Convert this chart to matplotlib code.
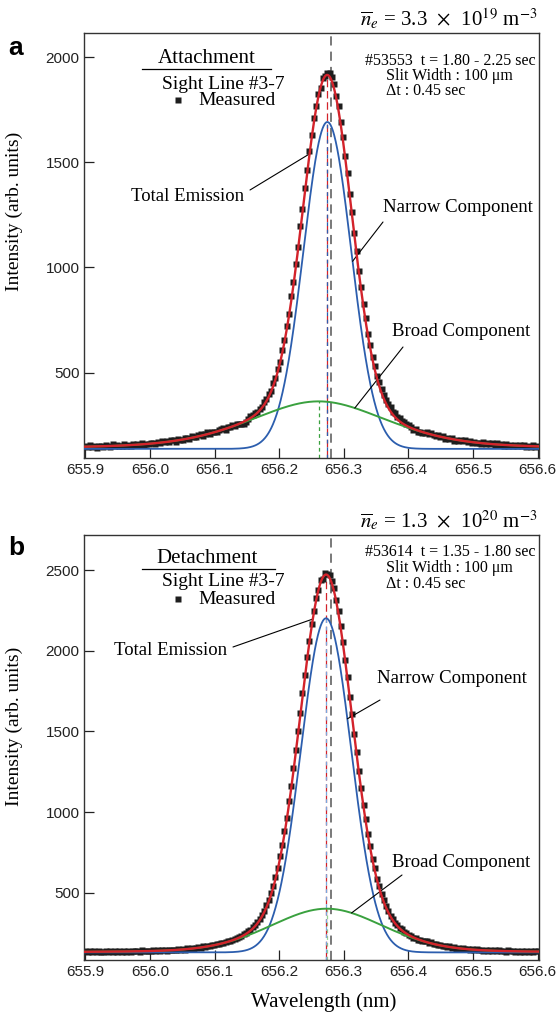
import numpy as np
import matplotlib
matplotlib.use('Agg')
import matplotlib.pyplot as plt
from matplotlib.lines import Line2D

plt.rcParams['font.family'] = ['Liberation Sans', 'DejaVu Sans']
plt.rcParams['mathtext.fontset'] = 'stix'
SERIF = ['Liberation Serif', 'DejaVu Serif']

# spectrometer wavelength grid (nm)
wl = np.linspace(655.9, 656.6, 201)

# measured H-alpha spectra
meas_a = [150, 144, 154, 146, 150, 143, 153, 151, 147, 155,
          150, 146, 158, 150, 155, 149, 153, 159, 151, 157,
          149, 160, 156, 160, 156, 165, 156, 161, 158, 166,
          165, 161, 170, 165, 174, 168, 174, 169, 178, 177,
          172, 184, 181, 179, 189, 188, 184, 196, 195, 193,
          201, 207, 199, 210, 215, 206, 219, 219, 215, 227,
          231, 237, 229, 242, 243, 251, 246, 257, 254, 253,
          256, 265, 281, 292, 296, 308, 314, 329, 336, 358,
          372, 396, 412, 448, 475, 517, 552, 609, 656, 723,
          778, 862, 931, 1018, 1095, 1197, 1278, 1377, 1463, 1552,
          1629, 1712, 1766, 1827, 1856, 1902, 1909, 1925, 1923, 1908,
          1874, 1818, 1769, 1692, 1620, 1528, 1449, 1350, 1263, 1162,
          1078, 983, 906, 825, 759, 685, 631, 576, 533, 486,
          456, 421, 395, 368, 350, 335, 314, 306, 289, 283,
          270, 265, 253, 250, 240, 228, 231, 219, 218, 211,
          213, 216, 206, 212, 205, 196, 203, 193, 196, 185,
          190, 183, 188, 176, 181, 175, 180, 173, 179, 169,
          173, 165, 171, 163, 167, 162, 168, 158, 164, 159,
          163, 155, 163, 154, 158, 152, 159, 153, 157, 149,
          155, 150, 156, 150, 156, 147, 152, 147, 154, 147, 150]

meas_b = [136, 131, 138, 133, 137, 130, 136, 134, 132, 139,
          133, 138, 131, 137, 134, 139, 133, 138, 134, 139,
          132, 140, 136, 139, 134, 142, 136, 141, 136, 141,
          143, 138, 143, 138, 145, 143, 140, 147, 142, 148,
          145, 151, 146, 152, 147, 155, 151, 158, 154, 160,
          161, 158, 167, 163, 170, 168, 177, 173, 182, 181,
          189, 186, 195, 202, 199, 210, 216, 218, 228, 233,
          245, 250, 262, 271, 288, 298, 319, 336, 363, 385,
          422, 453, 499, 541, 600, 654, 726, 795, 882, 966,
          1068, 1162, 1275, 1382, 1504, 1613, 1737, 1847, 1960, 2059,
          2167, 2245, 2328, 2379, 2436, 2446, 2482, 2473, 2469, 2430,
          2388, 2316, 2247, 2150, 2056, 1943, 1838, 1713, 1605, 1482,
          1371, 1253, 1152, 1046, 959, 864, 790, 712, 651, 587,
          540, 489, 453, 415, 387, 357, 338, 315, 301, 283,
          273, 258, 251, 236, 234, 221, 220, 208, 210, 201,
          201, 199, 188, 192, 181, 183, 173, 178, 171, 172,
          163, 168, 160, 163, 154, 158, 153, 157, 149, 152,
          148, 151, 143, 149, 143, 148, 140, 145, 140, 145,
          137, 143, 139, 143, 136, 141, 135, 142, 136, 140,
          133, 139, 135, 139, 133, 140, 134, 139, 132, 137, 136]

# fit results: amplitude, centre (nm), sigma (nm), lorentz fraction
base_a = 137
narrow_a = [1555, 656.2745, 0.037, 0.0]
broad_a = [226, 656.261, 0.108, 0.4]
base_b = 130
narrow_b = [2071, 656.2725, 0.039, 0.0]
broad_b = [271, 656.2735, 0.088, 0.2]

h_alpha = 656.28

RED = '#d3232b'
BLUE = '#2c5eae'
GREEN = '#3aa13f'
W, H = 556, 1015


def profile(x, amp, c, sig, eta):
    g = np.exp(-(x - c) ** 2 / (2 * sig ** 2))
    hw = sig * np.sqrt(2 * np.log(2))
    l = 1.0 / (1 + ((x - c) / hw) ** 2)
    return amp * ((1 - eta) * g + eta * l)


fig = plt.figure(figsize=(5.56, 10.15), dpi=100)
ax_a = fig.add_axes([84.3 / W, 1 - 457.7 / H, 455 / W, 424.4 / H])
ax_b = fig.add_axes([84.3 / W, 1 - 960 / H, 455 / W, 425 / H])


def ftext(x, y, s, **kw):
    kw.setdefault('family', SERIF)
    fig.text(x / W, 1 - y / H, s, **kw)


def draw(ax, meas, base, narrow, broad, ylim, yticks, light):
    x = np.linspace(655.89, 656.61, 1200)
    n = base + profile(x, *narrow)
    b = base + profile(x, *broad)
    tot = base + profile(x, *narrow) + profile(x, *broad)

    ax.plot(wl, meas, 's', ms=4, color='#1e1e1e', mec='none', zorder=2)
    ax.plot(x, n, color=BLUE, lw=1.3, zorder=3)
    ax.plot(x, b, color=GREEN, lw=1.4, zorder=3)
    ax.plot(x, tot, color=RED, lw=1.7, zorder=4)

    ax.axvline(h_alpha, color='#555555', lw=1.1, ls=(0, (6, 4)), zorder=1)
    pk = x[np.argmax(tot)]
    blue_c = BLUE if not light else '#7aa7dd'
    green_c = GREEN if not light else '#93d393'
    ax.vlines(broad[1], ylim[0], base + broad[0], colors=green_c, lw=0.9,
              linestyles=(0, (3, 2.5)), zorder=1)
    ax.vlines(pk, ylim[0], tot.max(), colors=RED, lw=0.9,
              linestyles=(0, (6, 3)), zorder=1)
    ax.vlines(narrow[1], ylim[0], base + narrow[0], colors=blue_c, lw=0.9,
              linestyles=(0, (3, 3)), zorder=1)

    ax.set_xlim(655.8983, 656.6026)
    ax.set_ylim(*ylim)
    ax.set_xticks(np.arange(655.9, 656.65, 0.1))
    ax.set_xticklabels(['%.1f' % v for v in np.arange(655.9, 656.65, 0.1)])
    ax.set_yticks(yticks)
    ax.tick_params(direction='in', length=7, width=0.9, labelsize=11,
                   colors='#222222')
    for s in ax.spines.values():
        s.set_linewidth(1.0)
        s.set_color('#333333')
    ax.set_ylabel('Intensity (arb. units)', family=SERIF, fontsize=14)
    return x, tot, n, b


def pt(x, xv, curve):
    # point of a plotted curve at wavelength xv
    return (xv, np.interp(xv, x, curve))


def line(ax, start, target):
    ax.annotate('', xy=target, xycoords='data',
                xytext=(start[0], H - start[1]), textcoords='figure pixels',
                arrowprops=dict(arrowstyle='-', color='k', lw=0.8,
                                shrinkA=0, shrinkB=0))


# ---- panel a
xa, tot_a, n_a, b_a = draw(ax_a, meas_a, base_a, narrow_a, broad_a,
                           (95, 2114), [500, 1000, 1500, 2000], False)
ax_a.yaxis.set_label_coords(-0.135, 0.58)
line(ax_a, (250, 190), pt(xa, 656.247, tot_a))
line(ax_a, (383, 222), pt(xa, 656.3135, n_a))
line(ax_a, (403, 347), pt(xa, 656.317, b_a))

ftext(537, 26, r'$\overline{n}_e$ = 3.3  $\times$  10$^{19}$ m$^{-3}$',
      fontsize=15, ha='right')
ftext(8, 55, 'a', fontsize=19, weight='bold', family=['Liberation Sans'])
ftext(207, 63, 'Attachment', fontsize=15, ha='center')
fig.add_artist(Line2D([142 / W, 271 / W], [1 - 69 / H] * 2, lw=0.9, color='k'))
ftext(162, 89, 'Sight Line #3-7', fontsize=14)
fig.add_artist(Line2D([178 / W], [1 - 100 / H], marker='s', ms=4,
                      color='#1e1e1e', mec='none'))
ftext(198, 105, 'Measured', fontsize=14)
ftext(450, 65, '#53553  t = 1.80 - 2.25 sec', fontsize=11.5, ha='center')
ftext(386, 80, 'Slit Width : 100 \u03bcm', fontsize=11.5)
ftext(386, 95, '\u0394t : 0.45 sec', fontsize=11.5)
ftext(188, 201, 'Total Emission', fontsize=13.5, ha='center')
ftext(458, 212, 'Narrow Component', fontsize=13.5, ha='center')
ftext(461, 336, 'Broad Component', fontsize=13.5, ha='center')

# ---- panel b
xb, tot_b, n_b, b_b = draw(ax_b, meas_b, base_b, narrow_b, broad_b,
                           (83, 2717), [500, 1000, 1500, 2000, 2500], True)
ax_b.yaxis.set_label_coords(-0.135, 0.55)
ax_b.set_xlabel('Wavelength (nm)', family=SERIF, fontsize=15)
ax_b.xaxis.set_label_coords(0.527, -0.075)
line(ax_b, (233, 647), pt(xb, 656.252, tot_b))
line(ax_b, (380, 700), pt(xb, 656.3055, n_b))
line(ax_b, (402, 875), pt(xb, 656.312, b_b))

ftext(537, 528, r'$\overline{n}_e$ = 1.3  $\times$  10$^{20}$ m$^{-3}$',
      fontsize=15, ha='right')
ftext(8, 555, 'b', fontsize=19, weight='bold', family=['Liberation Sans'])
ftext(207, 563, 'Detachment', fontsize=15, ha='center')
fig.add_artist(Line2D([142 / W, 275 / W], [1 - 569 / H] * 2, lw=0.9, color='k'))
ftext(162, 586, 'Sight Line #3-7', fontsize=14)
fig.add_artist(Line2D([178 / W], [1 - 599 / H], marker='s', ms=4,
                      color='#1e1e1e', mec='none'))
ftext(198, 604, 'Measured', fontsize=14)
ftext(450, 556, '#53614  t = 1.35 - 1.80 sec', fontsize=11.5, ha='center')
ftext(386, 572, 'Slit Width : 100 \u03bcm', fontsize=11.5)
ftext(386, 588, '\u0394t : 0.45 sec', fontsize=11.5)
ftext(171, 655, 'Total Emission', fontsize=13.5, ha='center')
ftext(452, 683, 'Narrow Component', fontsize=13.5, ha='center')
ftext(461, 867, 'Broad Component', fontsize=13.5, ha='center')

fig.savefig('out.png', dpi=100)
